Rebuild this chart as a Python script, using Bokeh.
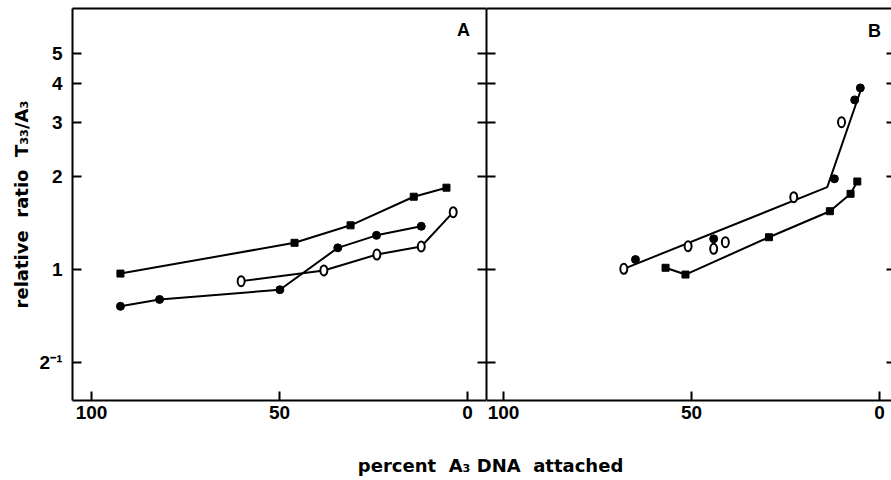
from bokeh.plotting import figure
from bokeh.layouts import row, column
from bokeh.models import Range1d, FixedTicker, LogAxis, LinearAxis, Label
from bokeh.embed import file_html
from bokeh.resources import INLINE

FONT = "Liberation Sans"
TITLE_FONT = "DejaVu Sans"

# ---------------- data ----------------
# Panel A
a_sq_x = [92.3, 46.0, 31.1, 14.3, 5.6]
a_sq_y = [0.97, 1.22, 1.39, 1.72, 1.84]
a_fc_x = [92.3, 81.9, 49.9, 34.5, 24.2, 12.3]
a_fc_y = [0.76, 0.80, 0.86, 1.175, 1.29, 1.38]
a_oc_x = [60.2, 38.2, 24.1, 12.3, 3.8]
a_oc_y = [0.917, 0.993, 1.118, 1.187, 1.533]

# Panel B
b_oc_x = [68.0, 50.9, 44.1, 41.0, 22.8, 10.1]
b_oc_y = [1.005, 1.19, 1.167, 1.226, 1.714, 2.998]
b_fc_x = [64.9, 44.1, 12.0, 6.6, 5.1]
b_fc_y = [1.077, 1.257, 1.966, 3.54, 3.87]
b_fit_x = [68.0, 13.9, 4.65]
b_fit_y = [1.005, 1.847, 3.91]
b_sq_x = [56.9, 51.6, 29.4, 13.2, 7.7, 5.9]
b_sq_y = [1.013, 0.963, 1.272, 1.544, 1.758, 1.927]

x_ticks = [100, 50, 0]
y_ticks = [0.5, 1, 2, 3, 4, 5]
y_tick_labels = ["2\u207b\u00b9", "1", "2", "3", "4", "5"]
NB = "\u00a0"
y_title = "relative" + NB + " ratio" + NB + " T\u2083\u2083/A\u2083"
x_title = "percent" + NB + " A\u2083 DNA" + NB + " attached"

Y_RANGE = (0.3767, 6.995)


def style_axis(ax, tick_in=9, labels=True, size="19px"):
    ax.axis_line_width = 2
    ax.axis_line_color = "black"
    ax.major_tick_in = tick_in
    ax.major_tick_out = 0
    ax.major_tick_line_width = 2
    ax.minor_tick_line_color = None
    if labels:
        ax.major_label_text_font = FONT
        ax.major_label_text_font_style = "bold"
        ax.major_label_text_font_size = size
        ax.major_label_text_color = "black"
    else:
        ax.major_label_text_color = None
        ax.major_label_text_font_size = "1px"
        ax.major_label_standoff = 0


def make_panel(width, left_border, x_start, x_end, with_labels):
    p = figure(width=width, height=440, x_range=Range1d(x_start, x_end),
               y_range=Range1d(*Y_RANGE), y_axis_type="log",
               x_axis_location=None, y_axis_location=None,
               output_backend="svg", toolbar_location=None,
               min_border_left=left_border, min_border_right=0,
               min_border_top=8, min_border_bottom=40)
    p.grid.visible = False
    p.outline_line_color = None
    p.background_fill_color = "white"
    p.border_fill_color = "white"

    # bottom axis
    xb = LinearAxis(ticker=FixedTicker(ticks=x_ticks))
    style_axis(xb)
    xb.major_label_standoff = 5
    p.add_layout(xb, "below")
    # top border
    xt = LinearAxis(ticker=FixedTicker(ticks=[]))
    style_axis(xt, tick_in=0, labels=False)
    p.add_layout(xt, "above")
    # left axis
    yl = LogAxis(ticker=FixedTicker(ticks=y_ticks))
    if with_labels:
        style_axis(yl)
        yl.major_label_overrides = {t: s for t, s in zip(y_ticks, y_tick_labels)}
        yl.major_label_standoff = 10
        yl.axis_label = y_title
        yl.axis_label_text_font = TITLE_FONT
        yl.axis_label_text_font_style = "bold"
        yl.axis_label_text_font_size = "18px"
        yl.axis_label_text_color = "black"
        yl.axis_label_standoff = 5
    else:
        style_axis(yl, labels=False)
    p.add_layout(yl, "left")
    return p


pA = make_panel(486, 72, 105.05, -5.05, True)
pB = make_panel(405, 0, 104.52, -3.19, False)

# right side ticks of A (cross ticks with B's left ticks)
yr = LogAxis(ticker=FixedTicker(ticks=y_ticks))
style_axis(yr, labels=False)
pA.add_layout(yr, "right")

# right side ticks of B (border itself lies just outside)
yrb = LogAxis(ticker=FixedTicker(ticks=y_ticks))
style_axis(yrb, tick_in=5, labels=False)
yrb.axis_line_color = None
pB.add_layout(yrb, "right")

LW = 2

# ---- Panel A series ----
pA.line(a_sq_x, a_sq_y, line_color="black", line_width=LW)
pA.scatter(a_sq_x, a_sq_y, marker="square", size=7, fill_color="black", line_color="black")
pA.line(a_fc_x, a_fc_y, line_color="black", line_width=LW)
pA.scatter(a_fc_x, a_fc_y, marker="circle", size=8, fill_color="black", line_color="black")
pA.line(a_oc_x, a_oc_y, line_color="black", line_width=LW)
pA.ellipse(a_oc_x, a_oc_y, width=7, height=10, width_units="screen", height_units="screen",
           fill_color="white", line_color="black", line_width=2)

# ---- Panel B series ----
pB.line(b_fit_x, b_fit_y, line_color="black", line_width=LW)
pB.scatter(b_fc_x, b_fc_y, marker="circle", size=8, fill_color="black", line_color="black")
pB.ellipse(b_oc_x, b_oc_y, width=7, height=10, width_units="screen", height_units="screen",
           fill_color="white", line_color="black", line_width=2)
pB.line(b_sq_x, b_sq_y, line_color="black", line_width=LW)
pB.scatter(b_sq_x, b_sq_y, marker="square", size=7, fill_color="black", line_color="black")

pA.add_layout(Label(x=1.06, y=5.98, text="A", text_align="center", text_baseline="middle",
                    text_color="black",
                    text_font=FONT, text_font_style="bold", text_font_size="18px"))
pB.add_layout(Label(x=1.3, y=5.9, text="B", text_align="center", text_baseline="middle",
                    text_color="black",
                    text_font=FONT, text_font_style="bold", text_font_size="18px"))

# ---- shared x-axis title ----
pC = figure(width=891, height=40, x_range=Range1d(0, 1), y_range=Range1d(0, 1),
            x_axis_location=None, y_axis_location=None, output_backend="svg",
            toolbar_location=None, min_border=0)
pC.grid.visible = False
pC.outline_line_color = None
pC.add_layout(Label(x=0.55, y=0.38, text=x_title, text_align="center", text_baseline="middle",
                    text_color="black",
                    text_font=TITLE_FONT, text_font_style="bold", text_font_size="18px"))

layout = column(row(pA, pB), pC)
open("out.html", "w").write(file_html(layout, INLINE))
